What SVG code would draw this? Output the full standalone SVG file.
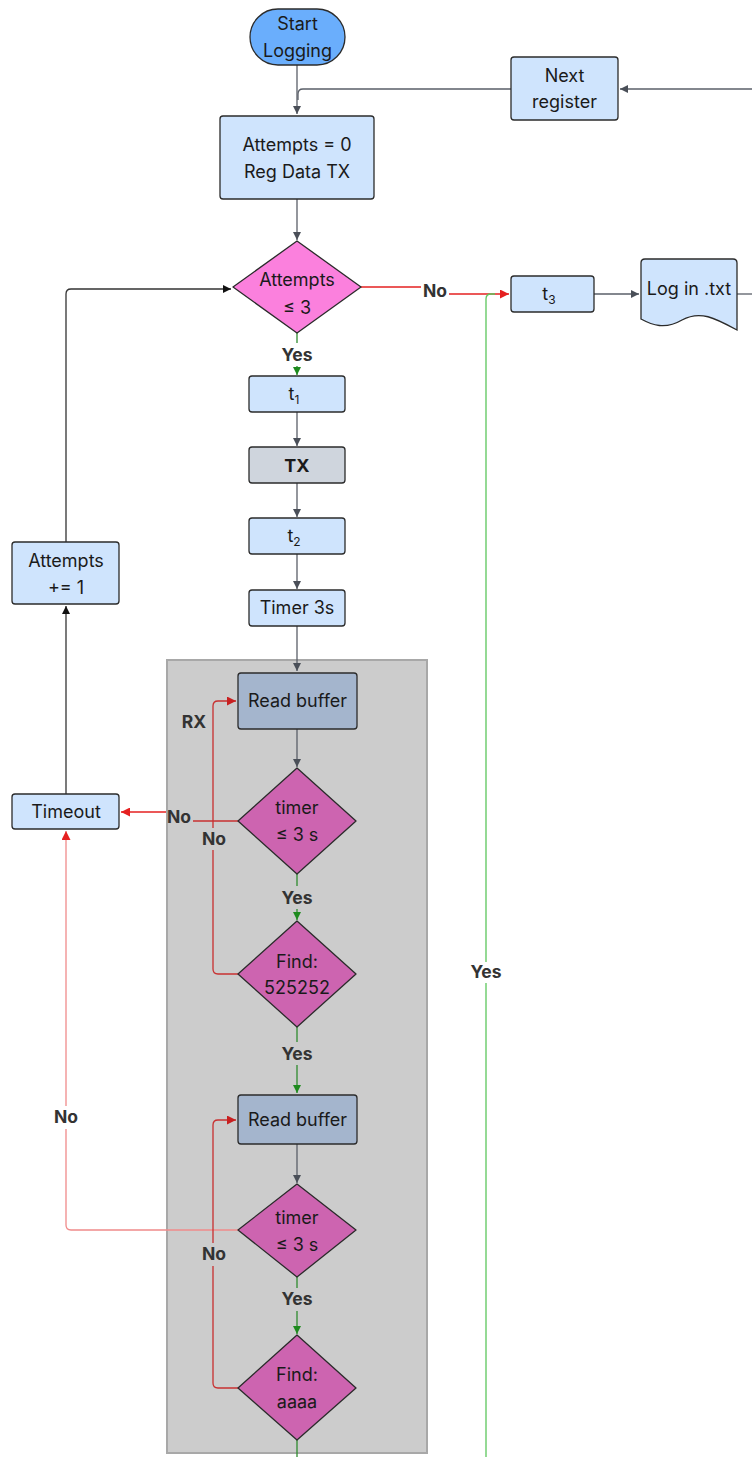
<svg xmlns="http://www.w3.org/2000/svg" width="752" height="1457" viewBox="0 0 752 1457">
<style>
.n{stroke:#2b2b2b;stroke-width:1.3}
.b{fill:#cfe4fd}
.rb{fill:#a4b5cd}
.d1{fill:#fb80dd}
.d2{fill:#cd64b0}
.t{font-family:Inter,"Liberation Sans",sans-serif;font-size:18px;fill:#1a1a1a;text-anchor:middle}
.l{font-family:Inter,"Liberation Sans",sans-serif;font-size:17.5px;font-weight:bold;fill:#333;text-anchor:middle}
.c{fill:none;stroke-width:1.3}
.g{stroke:#5a5f68}
.k{stroke:#333}
.gr{stroke:#2e8b2e}
.lg{stroke:#5cc65c}
.r{stroke:#e52020}
.dr{stroke:#c83030}
.pr{stroke:#f08a8a}
</style>
<defs>
<marker id="ag" viewBox="0 0 10 10" refX="10" refY="5" markerWidth="8" markerHeight="8" markerUnits="userSpaceOnUse" orient="auto"><path d="M0 0L10 5L0 10z" fill="#4a4f58"/></marker>
<marker id="ak" viewBox="0 0 10 10" refX="10" refY="5" markerWidth="8" markerHeight="8" markerUnits="userSpaceOnUse" orient="auto"><path d="M0 0L10 5L0 10z" fill="#111"/></marker>
<marker id="agr" viewBox="0 0 10 10" refX="10" refY="5" markerWidth="8" markerHeight="8" markerUnits="userSpaceOnUse" orient="auto"><path d="M0 0L10 5L0 10z" fill="#1e8a1e"/></marker>
<marker id="ar" viewBox="0 0 10 10" refX="10" refY="5" markerWidth="9" markerHeight="9" markerUnits="userSpaceOnUse" orient="auto"><path d="M0 0L10 5L0 10z" fill="#e52020"/></marker>
<marker id="adr" viewBox="0 0 10 10" refX="10" refY="5" markerWidth="9" markerHeight="9" markerUnits="userSpaceOnUse" orient="auto"><path d="M0 0L10 5L0 10z" fill="#c82020"/></marker>
</defs>

<g id="rx-container">
<rect x="167" y="660" width="260" height="793" fill="#cccccc" stroke="#a8a8a8" stroke-width="2"/>
<text class="l" x="194" y="728">RX</text>
</g>

<g id="connectors">
<path class="c g" d="M297 65V114" marker-end="url(#ag)"/>
<path class="c g" d="M752 89H620" marker-end="url(#ag)"/>
<path class="c g" d="M511 89H303Q298 89 298 94V100"/>
<path class="c g" d="M297 199V240" marker-end="url(#ag)"/>
<path class="c r" d="M361 287H421"/>
<path class="c r" d="M449 294H509" marker-end="url(#ar)"/>
<path class="c lg" d="M486 1457V983"/>
<path class="c lg" d="M486 962V299Q486 294 491 294H495"/>
<text class="l" x="486" y="978">Yes</text>
<text class="l" x="435" y="297">No</text>
<path class="c g" d="M594 294H639" marker-end="url(#ag)"/>
<path class="c g" d="M737 294H752"/>
<path class="c gr" d="M297 333V343"/>
<path class="c gr" d="M297 366V375" marker-end="url(#agr)"/>
<text class="l" x="297" y="361">Yes</text>
<path class="c g" d="M297 412V446" marker-end="url(#ag)"/>
<path class="c g" d="M297 483V517" marker-end="url(#ag)"/>
<path class="c g" d="M297 554V589" marker-end="url(#ag)"/>
<path class="c g" d="M297 626V671" marker-end="url(#ag)"/>
<path class="c k" d="M66 542V294Q66 289 71 289H231" marker-end="url(#ak)"/>
<path class="c k" d="M66 794V606" marker-end="url(#ak)"/>
<path class="c g" d="M297 729V767" marker-end="url(#ag)"/>
<path class="c dr" d="M238 821H193"/>
<path class="c r" d="M166 812H121" marker-end="url(#ar)"/>
<text class="l" x="179" y="823">No</text>
<path class="c dr" d="M238 974H218Q213 974 213 969V850"/>
<path class="c dr" d="M213 828V706Q213 701 218 701H236" marker-end="url(#adr)"/>
<text class="l" x="214" y="845">No</text>
<path class="c gr" d="M297 874V886"/>
<path class="c gr" d="M297 909V920" marker-end="url(#agr)"/>
<text class="l" x="297" y="904">Yes</text>
<path class="c gr" d="M297 1027V1042"/>
<path class="c gr" d="M297 1065V1093" marker-end="url(#agr)"/>
<text class="l" x="297" y="1060">Yes</text>
<path class="c g" d="M297 1144V1183" marker-end="url(#ag)"/>
<path class="c pr" d="M238 1230H71Q66 1230 66 1225V1129"/>
<path class="c pr" d="M66 1106V831" marker-end="url(#ar)"/>
<text class="l" x="66" y="1123">No</text>
<path class="c dr" d="M238 1388H218Q213 1388 213 1383V1266"/>
<path class="c dr" d="M213 1243V1125Q213 1120 218 1120H236" marker-end="url(#adr)"/>
<text class="l" x="214" y="1260">No</text>
<path class="c gr" d="M297 1277V1288"/>
<path class="c gr" d="M297 1311V1334" marker-end="url(#agr)"/>
<text class="l" x="297" y="1305">Yes</text>
<path class="c gr" d="M297 1440V1457"/>
</g>

<g id="start">
<rect class="n" x="250" y="9" width="95" height="56" rx="28" fill="#6aaefc"/>
<text class="t" x="297.5" y="30">Start</text>
<text class="t" x="297.5" y="57">Logging</text>
</g>
<g id="next-register">
<rect class="n b" x="511" y="57" width="107" height="63" rx="3"/>
<text class="t" x="564.5" y="82">Next</text>
<text class="t" x="564.5" y="108">register</text>
</g>
<g id="init">
<rect class="n b" x="220" y="116" width="154" height="83" rx="3"/>
<text class="t" x="297" y="151">Attempts = 0</text>
<text class="t" x="297" y="178">Reg Data TX</text>
</g>
<g id="attempts-check">
<path class="n d1" d="M297 241L361 287L297 333L233 287Z" stroke-linejoin="round"/>
<text class="t" x="297" y="286">Attempts</text>
<text class="t" x="297" y="314">≤ 3</text>
</g>
<g id="t3">
<rect class="n b" x="511" y="276" width="83" height="36" rx="3"/>
<text class="t" x="549" y="300">t<tspan font-size="12" dy="4">3</tspan></text>
</g>
<g id="log">
<path class="n b" d="M641 263Q641 259 645 259H733Q737 259 737 263V330C715 318 700 310 682 320C665 330 652 325 641 319Z"/>
<text class="t" x="689" y="295">Log in .txt</text>
</g>
<g id="t1">
<rect class="n b" x="249" y="376" width="96" height="36" rx="3"/>
<text class="t" x="294" y="400">t<tspan font-size="12" dy="4">1</tspan></text>
</g>
<g id="tx">
<rect class="n" x="249" y="447" width="96" height="36" rx="3" fill="#cfd5dd"/>
<text class="t" x="297" y="472" font-weight="bold">TX</text>
</g>
<g id="t2">
<rect class="n b" x="249" y="518" width="96" height="36" rx="3"/>
<text class="t" x="294" y="542">t<tspan font-size="12" dy="4">2</tspan></text>
</g>
<g id="timer3s">
<rect class="n b" x="249" y="590" width="96" height="36" rx="3"/>
<text class="t" x="297" y="614">Timer 3s</text>
</g>
<g id="attempts-inc">
<rect class="n b" x="12" y="542" width="107" height="62" rx="3"/>
<text class="t" x="66" y="567">Attempts</text>
<text class="t" x="66" y="594">+= 1</text>
</g>
<g id="timeout">
<rect class="n b" x="12" y="794" width="107" height="35" rx="3"/>
<text class="t" x="66" y="818">Timeout</text>
</g>
<g id="read-buffer-1">
<rect class="n rb" x="238" y="673" width="119" height="56" rx="3"/>
<text class="t" x="297.5" y="707">Read buffer</text>
</g>
<g id="timer-check-1">
<path class="n d2" d="M297 768L356 821L297 874L238 821Z" stroke-linejoin="round"/>
<text class="t" x="297" y="814">timer</text>
<text class="t" x="297" y="841">≤ 3 s</text>
</g>
<g id="find-525252">
<path class="n d2" d="M297 921L356 974L297 1027L238 974Z" stroke-linejoin="round"/>
<text class="t" x="297" y="968">Find:</text>
<text class="t" x="297" y="994">525252</text>
</g>
<g id="read-buffer-2">
<rect class="n rb" x="238" y="1095" width="119" height="49" rx="3"/>
<text class="t" x="297.5" y="1126">Read buffer</text>
</g>
<g id="timer-check-2">
<path class="n d2" d="M297 1184L356 1230L297 1277L238 1230Z" stroke-linejoin="round"/>
<text class="t" x="297" y="1224">timer</text>
<text class="t" x="297" y="1251">≤ 3 s</text>
</g>
<g id="find-aaaa">
<path class="n d2" d="M297 1335L356 1388L297 1440L238 1388Z" stroke-linejoin="round"/>
<text class="t" x="297" y="1381">Find:</text>
<text class="t" x="297" y="1408">aaaa</text>
</g>
</svg>
